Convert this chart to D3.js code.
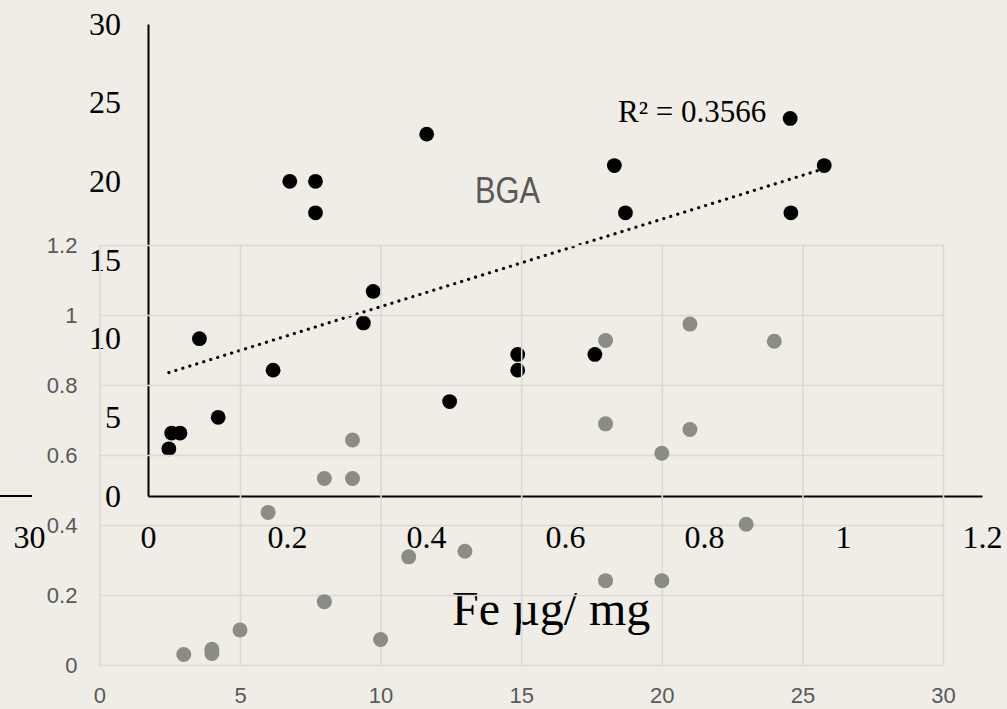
<!DOCTYPE html>
<html><head><meta charset="utf-8">
<script src="https://cdn.jsdelivr.net/npm/d3@7"></script>
<style>
html,body{margin:0;padding:0;background:#efede5;}
svg{display:block;}
</style></head>
<body>
<svg id="c" width="1007" height="709"></svg>
<script>
// ---- data: black series (Fe µg/mg vs value) ----
const blackX = [0.030,0.034,0.046,0.074,0.101,0.180,0.204,0.241,0.241,0.310,0.324,0.401,0.434,0.532,0.532,0.643,0.671,0.687,0.924,0.925,0.973];
const blackY = [3,4,4,10,5,8,20,20,18,11,13,23,6,9,8,9,21,18,24,18,21];
const blackXTicks = [0,0.2,0.4,0.6,0.8,1,1.2];
const blackYTicks = [0,5,10,15,20,25,30];
// ---- data: gray series (BGA) ----
const grayX = [3,4,4,5,6,8,8,9,9,10,11,13,18,18,18,20,20,21,21,23,24];
const grayY = [0.030,0.045,0.033,0.100,0.436,0.533,0.181,0.533,0.643,0.073,0.309,0.325,0.241,0.689,0.927,0.241,0.605,0.673,0.974,0.402,0.925];
const grayXTicks = [0,5,10,15,20,25,30];
const grayYTicks = [0,0.2,0.4,0.6,0.8,1,1.2];
const fragTicks = [30];
const r2Label = "R² = 0.3566";
const grayTitle = "BGA";
const xTitle = "Fe µg/ mg";

const svg = d3.select("#c");
const serif = "'Liberation Serif','Times New Roman',serif";
const sans = "'Liberation Sans',Arial,sans-serif";

// ================= black chart (underneath) =================
const xB = d3.scaleLinear().domain([0,1.2]).range([148,982]);
const yB = d3.scaleLinear().domain([0,30]).range([496,24]);
const gB = svg.append("g");

// left fragment axis (ends at 30)
const xF = d3.scaleLinear().domain([0,30]).range([29-834,29]);
gB.append("line").attr("x1",0).attr("x2",32).attr("y1",496).attr("y2",496)
  .attr("stroke","#000").attr("stroke-width",2);
const fa = gB.append("g").attr("transform","translate(0,496)")
  .call(d3.axisBottom(xF).tickValues(fragTicks).tickSize(0).tickPadding(29).tickFormat(d=>String(d)));
fa.select(".domain").remove();
fa.selectAll("text").attr("font-family",serif).attr("font-size",32).attr("fill","#000");

const axB = gB.append("g").attr("transform","translate(0,496)")
  .call(d3.axisBottom(xB).tickValues(blackXTicks).tickSize(0).tickSizeOuter(0).tickPadding(29).tickFormat(d=>String(d)));
axB.select(".domain").attr("stroke","#000").attr("stroke-width",2);
axB.selectAll("text").attr("font-family",serif).attr("font-size",32).attr("fill","#000");

const ayB = gB.append("g").attr("transform","translate(148,0)")
  .call(d3.axisLeft(yB).tickValues(blackYTicks).tickSize(0).tickSizeOuter(0).tickPadding(27).tickFormat(d=>String(d)));
ayB.select(".domain").attr("stroke","#000").attr("stroke-width",2);
ayB.selectAll("text").attr("font-family",serif).attr("font-size",32).attr("fill","#000");

// trend line (least squares)
const n = blackX.length;
const mx = d3.mean(blackX), my = d3.mean(blackY);
let sxy=0,sxx=0;
for(let i=0;i<n;i++){sxy+=(blackX[i]-mx)*(blackY[i]-my);sxx+=(blackX[i]-mx)**2;}
const slope = sxy/sxx, icpt = my - slope*mx;
const ext = d3.extent(blackX);
gB.append("path")
  .attr("d", d3.line().x(d=>xB(d)).y(d=>yB(icpt+slope*d))(ext))
  .attr("fill","none").attr("stroke","#000").attr("stroke-width",3.2)
  .attr("stroke-linecap","round").attr("stroke-dasharray","0.1 7.2");

gB.selectAll("circle.b").data(blackX.map((x,i)=>[x,blackY[i]])).join("circle")
  .attr("class","b").attr("cx",d=>xB(d[0])).attr("cy",d=>yB(d[1])).attr("r",7.4).attr("fill","#000");

gB.append("text").attr("x",618).attr("y",122).attr("font-family",serif).attr("font-size",31)
  .attr("fill","#000").text(r2Label);
gB.append("text").attr("x",452).attr("y",625).attr("font-family",serif).attr("font-size",48)
  .attr("fill","#000").text(xTitle);

// ================= gray chart (on top) =================
const xG = d3.scaleLinear().domain([0,30]).range([99.4,943]);
const yG = d3.scaleLinear().domain([0,1.2]).range([665,245]);
const gG = svg.append("g");

const gridX = gG.append("g").attr("transform","translate(0,665)")
  .call(d3.axisBottom(xG).tickValues(grayXTicks).tickSize(-(665-245)).tickFormat(""));
gridX.select(".domain").remove();
gridX.selectAll("line").attr("stroke","#d9d9d6").attr("stroke-width",1.6);
const gridY = gG.append("g").attr("transform","translate(99.4,0)")
  .call(d3.axisLeft(yG).tickValues(grayYTicks).tickSize(-(943-99.4)).tickFormat(""));
gridY.select(".domain").remove();
gridY.selectAll("line").attr("stroke","#d9d9d6").attr("stroke-width",1.6);

gG.selectAll("circle.g").data(grayX.map((x,i)=>[x,grayY[i]])).join("circle")
  .attr("class","g").attr("cx",d=>xG(d[0])).attr("cy",d=>yG(d[1])).attr("r",7.5).attr("fill","#8b8c86");

const axG = gG.append("g").attr("transform","translate(0,665)")
  .call(d3.axisBottom(xG).tickValues(grayXTicks).tickSize(0).tickPadding(22).tickFormat(d=>String(d)));
axG.select(".domain").remove();
axG.selectAll("text").attr("font-family",sans).attr("font-size",22).attr("fill","#595959");
const ayG = gG.append("g").attr("transform","translate(99.4,0)")
  .call(d3.axisLeft(yG).tickValues(grayYTicks).tickSize(0).tickPadding(22).tickFormat(d=>String(d)));
ayG.select(".domain").remove();
ayG.selectAll("text").attr("font-family",sans).attr("font-size",22).attr("fill","#595959");

gG.append("text").attr("x",475).attr("y",203).attr("font-family",sans).attr("font-size",36)
  .attr("textLength",65).attr("lengthAdjust","spacingAndGlyphs")
  .attr("fill","#595959").text(grayTitle);
</script>
</body></html>
